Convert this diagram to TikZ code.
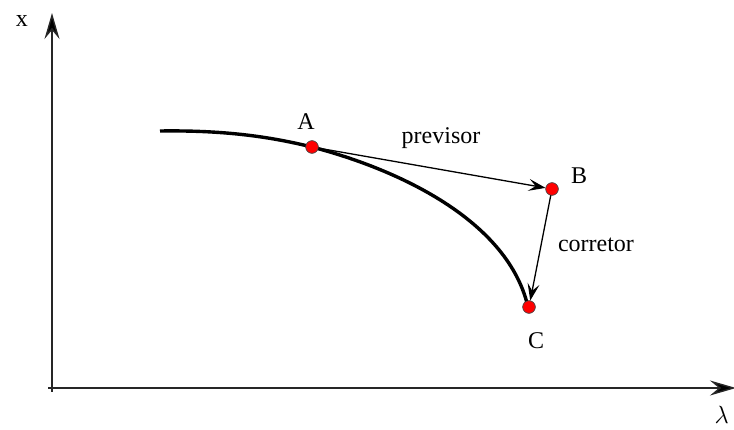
\documentclass[tikz,border=0pt]{standalone}
\usepackage{fontspec}
\setmainfont{Liberation Serif}
\usetikzlibrary{arrows.meta}
\begin{document}
\begin{tikzpicture}[x=1pt,y=-1pt,
  lbl/.style={font=\fontsize{24}{28}\selectfont, inner sep=0pt},
  pt/.style={circle, fill=red, draw=black!70, line width=0.6pt, minimum size=12.5pt, inner sep=0pt},
  axis/.style={line width=1.4pt, draw=black!85, -{Stealth[length=26pt,width=15pt,inset=9pt,fill=black]}},
  conn/.style={line width=1.3pt, -{Stealth[length=17pt,width=12pt,inset=7pt]}},
  curve/.style={line width=3.4pt}]
\useasboundingbox (0,0) rectangle (734,430);
\coordinate (O1) at (52,392);
\coordinate (Ytop) at (52,13);
\coordinate (O2) at (48,388);
\coordinate (Xend) at (736,388);
\draw[axis] (O1) -- (Ytop);
\draw[axis] (O2) -- (Xend);
\node[lbl] (xl) at (22,21) {x};
\node[lbl, anchor=south east] (ll) at (729,424) {$\lambda$};
\coordinate (S) at (160,131);
\coordinate (E) at (527,303);
\node[pt] (A) at (312,147) {};
\node[pt] (B) at (552,189) {};
\node[pt] (C) at (529,307) {};
\draw[curve] (S) .. controls (230,130) and (275,138) .. (A.center)
  .. controls (400,170) and (505,220) .. (E);
\draw[conn] (A.center) -- (B);
\draw[conn] (B.center) -- (C);
\node[pt] at (A) {};
\node[pt] at (B) {};
\node[pt] at (C) {};
\node[lbl] (Al) at (306,122) {A};
\node[lbl] (Bl) at (579,176) {B};
\node[lbl] (Cl) at (536,341) {C};
\node[lbl] (pv) at (441,138) {previsor};
\node[lbl] (cr) at (596,245) {corretor};
\end{tikzpicture}
\end{document}
